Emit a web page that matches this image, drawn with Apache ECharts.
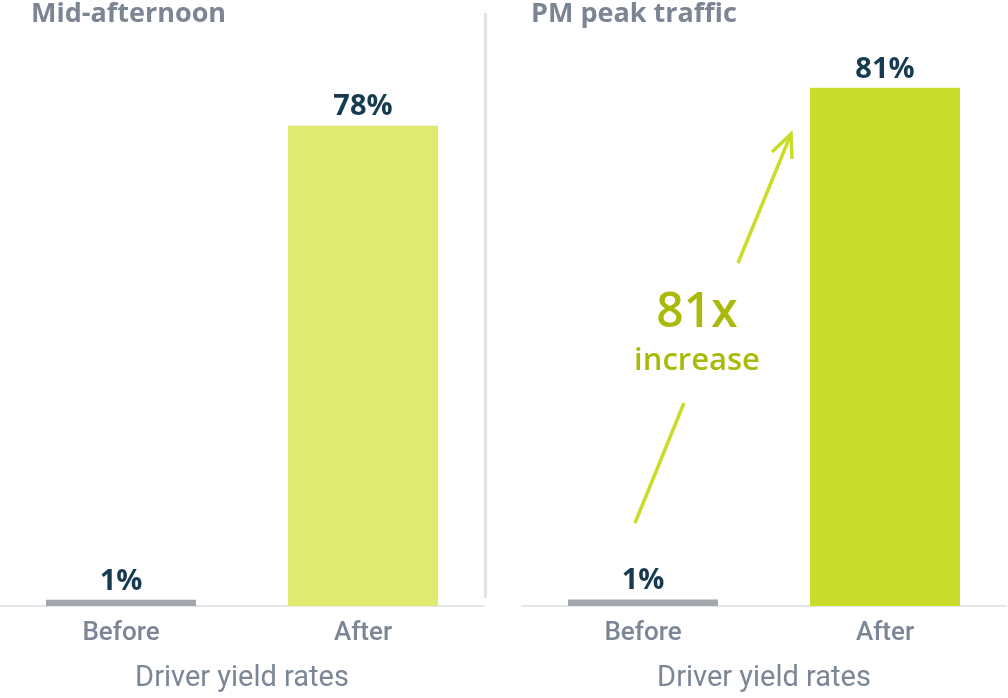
<!DOCTYPE html>
<html>
<head>
<meta charset="utf-8">
<script src="https://cdn.jsdelivr.net/npm/echarts@6/dist/echarts.min.js"></script>
<style>
  html, body { margin: 0; padding: 0; background: #fff; }
  #chart { width: 1008px; height: 698px; }
</style>
</head>
<body>
<div id="chart"></div>
<script>
// data
const categories = ['Before', 'After'];
const midAfternoon = [1, 78];
const pmPeak = [1, 81];
const panelTitles = ['Mid-afternoon', 'PM peak traffic'];
const axisTitle = 'Driver yield rates';

const GREY = '#a2a6ad';
const navy = '#163a50';
const labelGrey = '#7b8696';

function barData(vals, afterColor) {
  return vals.map((v, i) => ({
    value: v,
    itemStyle: { color: i === 0 ? GREY : afterColor }
  }));
}

function xAxisFor(idx) {
  return {
    type: 'category',
    gridIndex: idx,
    data: categories,
    axisLine: { show: true, lineStyle: { color: '#e3e6ea', width: 2 } },
    axisTick: { show: false },
    axisLabel: { margin: 14, fontSize: 26, fontWeight: 500, color: labelGrey, fontFamily: 'Roboto' },
    name: axisTitle,
    nameLocation: 'middle',
    nameGap: 58,
    nameTextStyle: { fontSize: 29, color: labelGrey, fontFamily: 'Roboto', fontWeight: 400 }
  };
}

function yAxisFor(idx) {
  return {
    type: 'value', gridIndex: idx, min: 0, max: 90,
    show: false, splitLine: { show: false }
  };
}

const barLabel = {
  show: true, position: 'top', distance: 4,
  formatter: '{c}%', color: navy,
  fontFamily: 'Open Sans', fontWeight: 'bold', fontSize: 29
};

const titleStyle = { fontFamily: 'Open Sans', fontWeight: 'bold', fontSize: 27, color: '#7b8594' };

const chart = echarts.init(document.getElementById('chart'));
chart.setOption({
  animation: false,
  title: [
    { text: panelTitles[0], left: 26, top: -4, textStyle: titleStyle },
    { text: panelTitles[1], left: 526, top: -4, textStyle: titleStyle }
  ],
  grid: [
    { left: 0, width: 484, top: 51.8, height: 556.7 },
    { left: 522, width: 484, top: 30.3, height: 580.2 }
  ],
  xAxis: [xAxisFor(0), xAxisFor(1)],
  yAxis: [yAxisFor(0), yAxisFor(1)],
  series: [
    { type: 'bar', xAxisIndex: 0, yAxisIndex: 0, barWidth: 150,
      data: barData(midAfternoon, '#e0ea6e'), label: barLabel },
    { type: 'bar', xAxisIndex: 1, yAxisIndex: 1, barWidth: 150,
      data: barData(pmPeak, '#cadc2a'), label: barLabel }
  ],
  graphic: [
    // divider between panels
    { type: 'line', shape: { x1: 485.5, y1: 13, x2: 485.5, y2: 598 },
      style: { stroke: '#dfe2e6', lineWidth: 3 } },
    // increase arrow
    { type: 'line', shape: { x1: 635, y1: 523, x2: 684, y2: 403 },
      style: { stroke: '#cadc2a', lineWidth: 3.5 } },
    { type: 'line', shape: { x1: 738, y1: 263, x2: 791, y2: 134 },
      style: { stroke: '#cadc2a', lineWidth: 3.5 } },
    { type: 'polyline', shape: { points: [[772, 152], [791, 134], [792, 159]] },
      style: { stroke: '#cadc2a', lineWidth: 3.5, fill: null } },
    { type: 'text', x: 697, y: 313,
      style: { text: '81x', align: 'center', verticalAlign: 'middle',
        font: '600 48px "Open Sans"', fill: '#a9ba0a' } },
    { type: 'text', x: 697, y: 361,
      style: { text: 'increase', align: 'center', verticalAlign: 'middle',
        font: '600 31px "Open Sans"', fill: '#a9ba0a' } }
  ]
});
</script>
</body>
</html>
